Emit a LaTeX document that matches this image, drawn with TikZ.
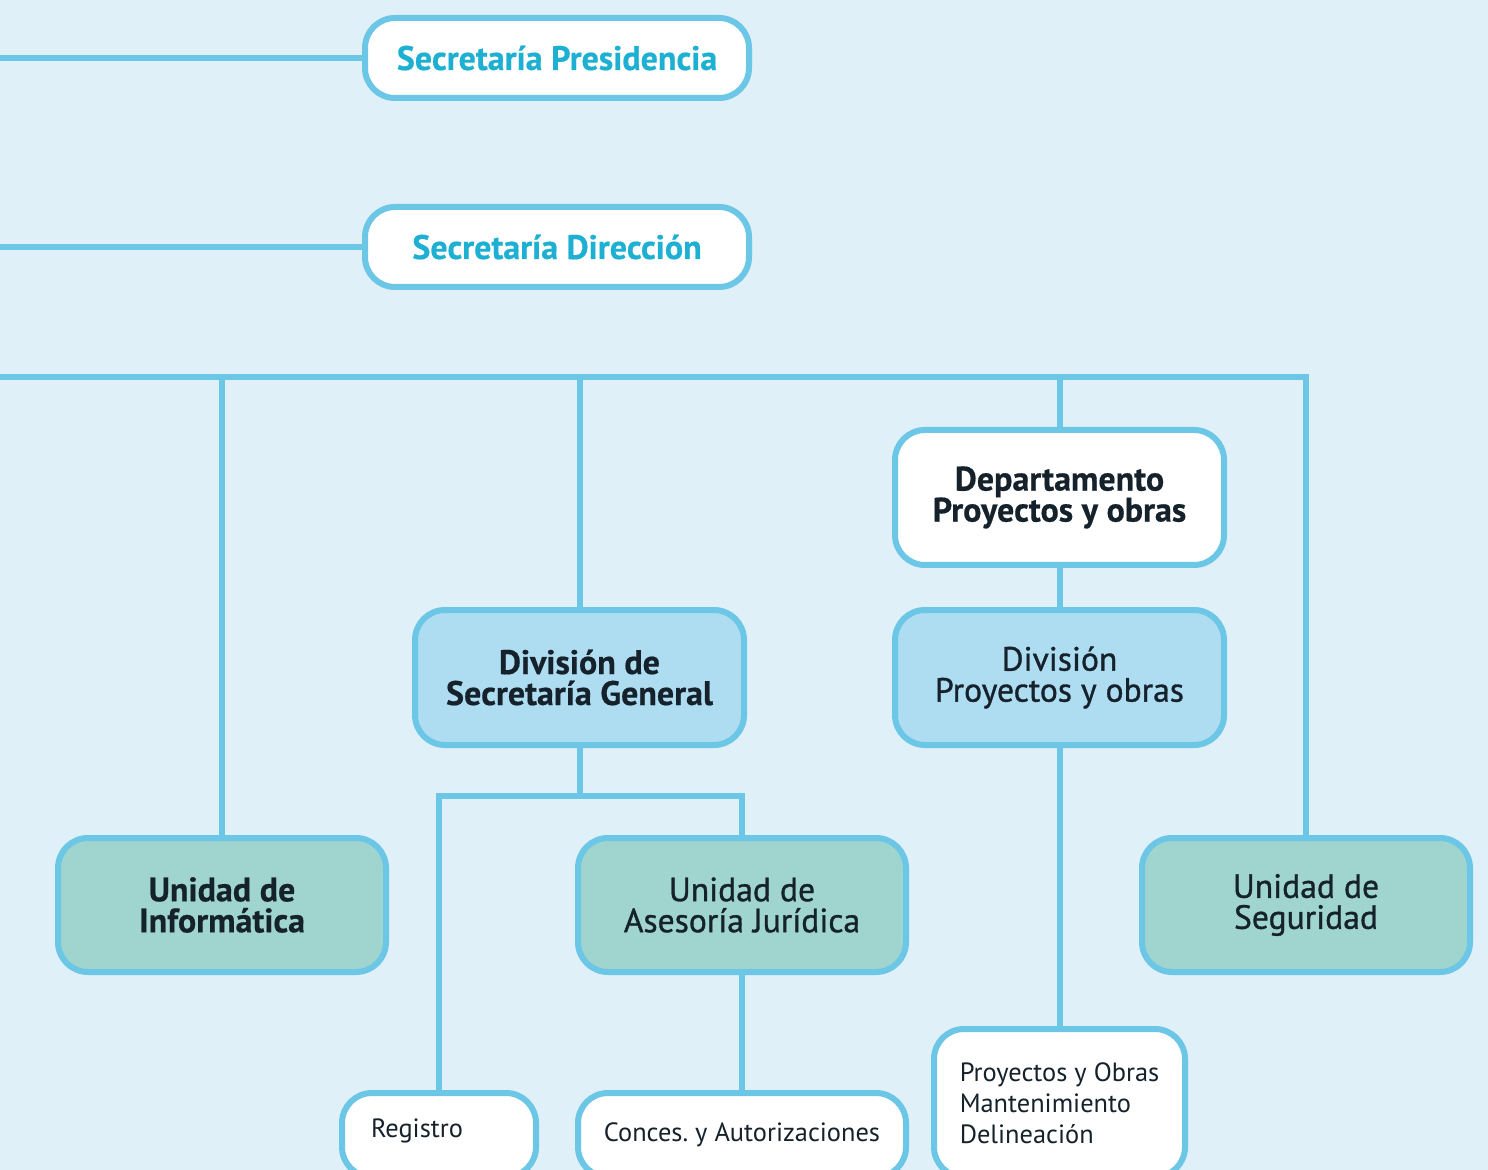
\documentclass[tikz,border=0pt]{standalone}
\usepackage{fontspec}
\setmainfont[BoldFeatures={FakeBold=0.5}]{PT Sans}
\newfontfamily\medfont[FakeBold=1]{PT Sans}
\usetikzlibrary{positioning}
\definecolor{bgblue}{HTML}{DFF0F8}
\definecolor{lineblue}{HTML}{6CC6E6}
\definecolor{titlecyan}{HTML}{1DB0D2}
\definecolor{divblue}{HTML}{AEDCF1}
\definecolor{unitgreen}{HTML}{A0D5CF}
\definecolor{inkdark}{HTML}{15222B}
\frenchspacing

\begin{document}
\begin{tikzpicture}[x=0.5pt,y=-0.5pt,line width=3pt]
 \tikzstyle{box node}=[rectangle,rounded corners=15pt,draw=lineblue,inner sep=2pt,align=center,text=inkdark]
 \tikzstyle{sec node}=[box node,fill=white,minimum width=192pt,minimum height=40pt,text=titlecyan,font=\bfseries\fontsize{17}{17}\selectfont]
 \tikzset{
 	head node/.style={box node,fill=white,minimum width=164.5pt,minimum height=67.5pt,font=\bfseries\fontsize{17}{15.5}\selectfont},
 	div node/.style={box node,fill=divblue,minimum width=164.5pt,minimum height=67.5pt},
 	unit node/.style={box node,fill=unitgreen,minimum width=164pt,minimum height=67pt},
 	leaf node/.style={box node,fill=white,minimum height=42pt,align=left,font=\fontsize{13.2}{15.5}\selectfont},
 	bold text/.style={font=\bfseries\fontsize{17}{15.5}\selectfont},
 	med text/.style={font=\medfont\fontsize{16.8}{15.5}\selectfont}
 }

 % background and frame
 \fill[bgblue] (0,0) rectangle (1488,1170);
 \clip (0,0) rectangle (1488,1170);

 % secretarias
 \node[sec node] (pres) at (557,58) {Secretaría Presidencia};
 \node[sec node] (dir) at (557,247) {Secretaría Dirección};

 % second row
 \node[head node] (dep) at (1059.5,497.5) {Departamento\\Proyectos y obras};
 \node[div node,bold text] (sg) at (579.5,677.5) {División de\\Secretaría General};
 \node[div node,med text] (dp) at (1059.5,677.5) {División\\Proyectos y obras};

 % units
 \node[unit node,bold text] (inf) at (222,905) {Unidad de\\Informática};
 \node[unit node,med text] (ase) at (742,905) {Unidad de\\Asesoría Jurídica};
 \node[unit node,med text] (seg) at (1306,905) {Unidad de\\Seguridad};

 % leaves
 \node[leaf node,minimum width=97pt,text width=68pt,inner xsep=14.5pt] (reg) at (439,1135) {\raisebox{7pt}{Registro}};
 \node[leaf node,minimum width=164pt] (con) at (742,1135) {Conces. y Autorizaciones};
 \node[leaf node,minimum width=125.5pt,minimum height=74pt] (pyo) at (1059.5,1103) {Proyectos y Obras\\Mantenimiento\\Delineación};

 \coordinate (presL) at (0,58);
 \coordinate (dirL) at (0,247);
 \coordinate (busL) at (0,377);
 \coordinate (busR) at (1306,377);
 \coordinate (sgJ) at (580,796);

 \path[draw=lineblue] (pres.west) -- (presL);
 \path[draw=lineblue] (dir.west) -- (dirL);
 \path[draw=lineblue] (busL) -- (busR) -- (seg.north);
 \path[draw=lineblue] (inf.north) -- (inf.north |- busL);
 \path[draw=lineblue] (sg.north) -- (sg.north |- busL);
 \path[draw=lineblue] (dep.north) -- (dep.north |- busL);
 \path[draw=lineblue] (dep.south) -- (dp.north);
 \path[draw=lineblue] (sg.south) -- (sg.south |- sgJ);
 \path[draw=lineblue] (reg.north) |- (sgJ) -| (ase.north);
 \path[draw=lineblue] (ase.south) -- (con.north);
 \path[draw=lineblue] (dp.south) -- (pyo.north);
\end{tikzpicture}
\end{document}
